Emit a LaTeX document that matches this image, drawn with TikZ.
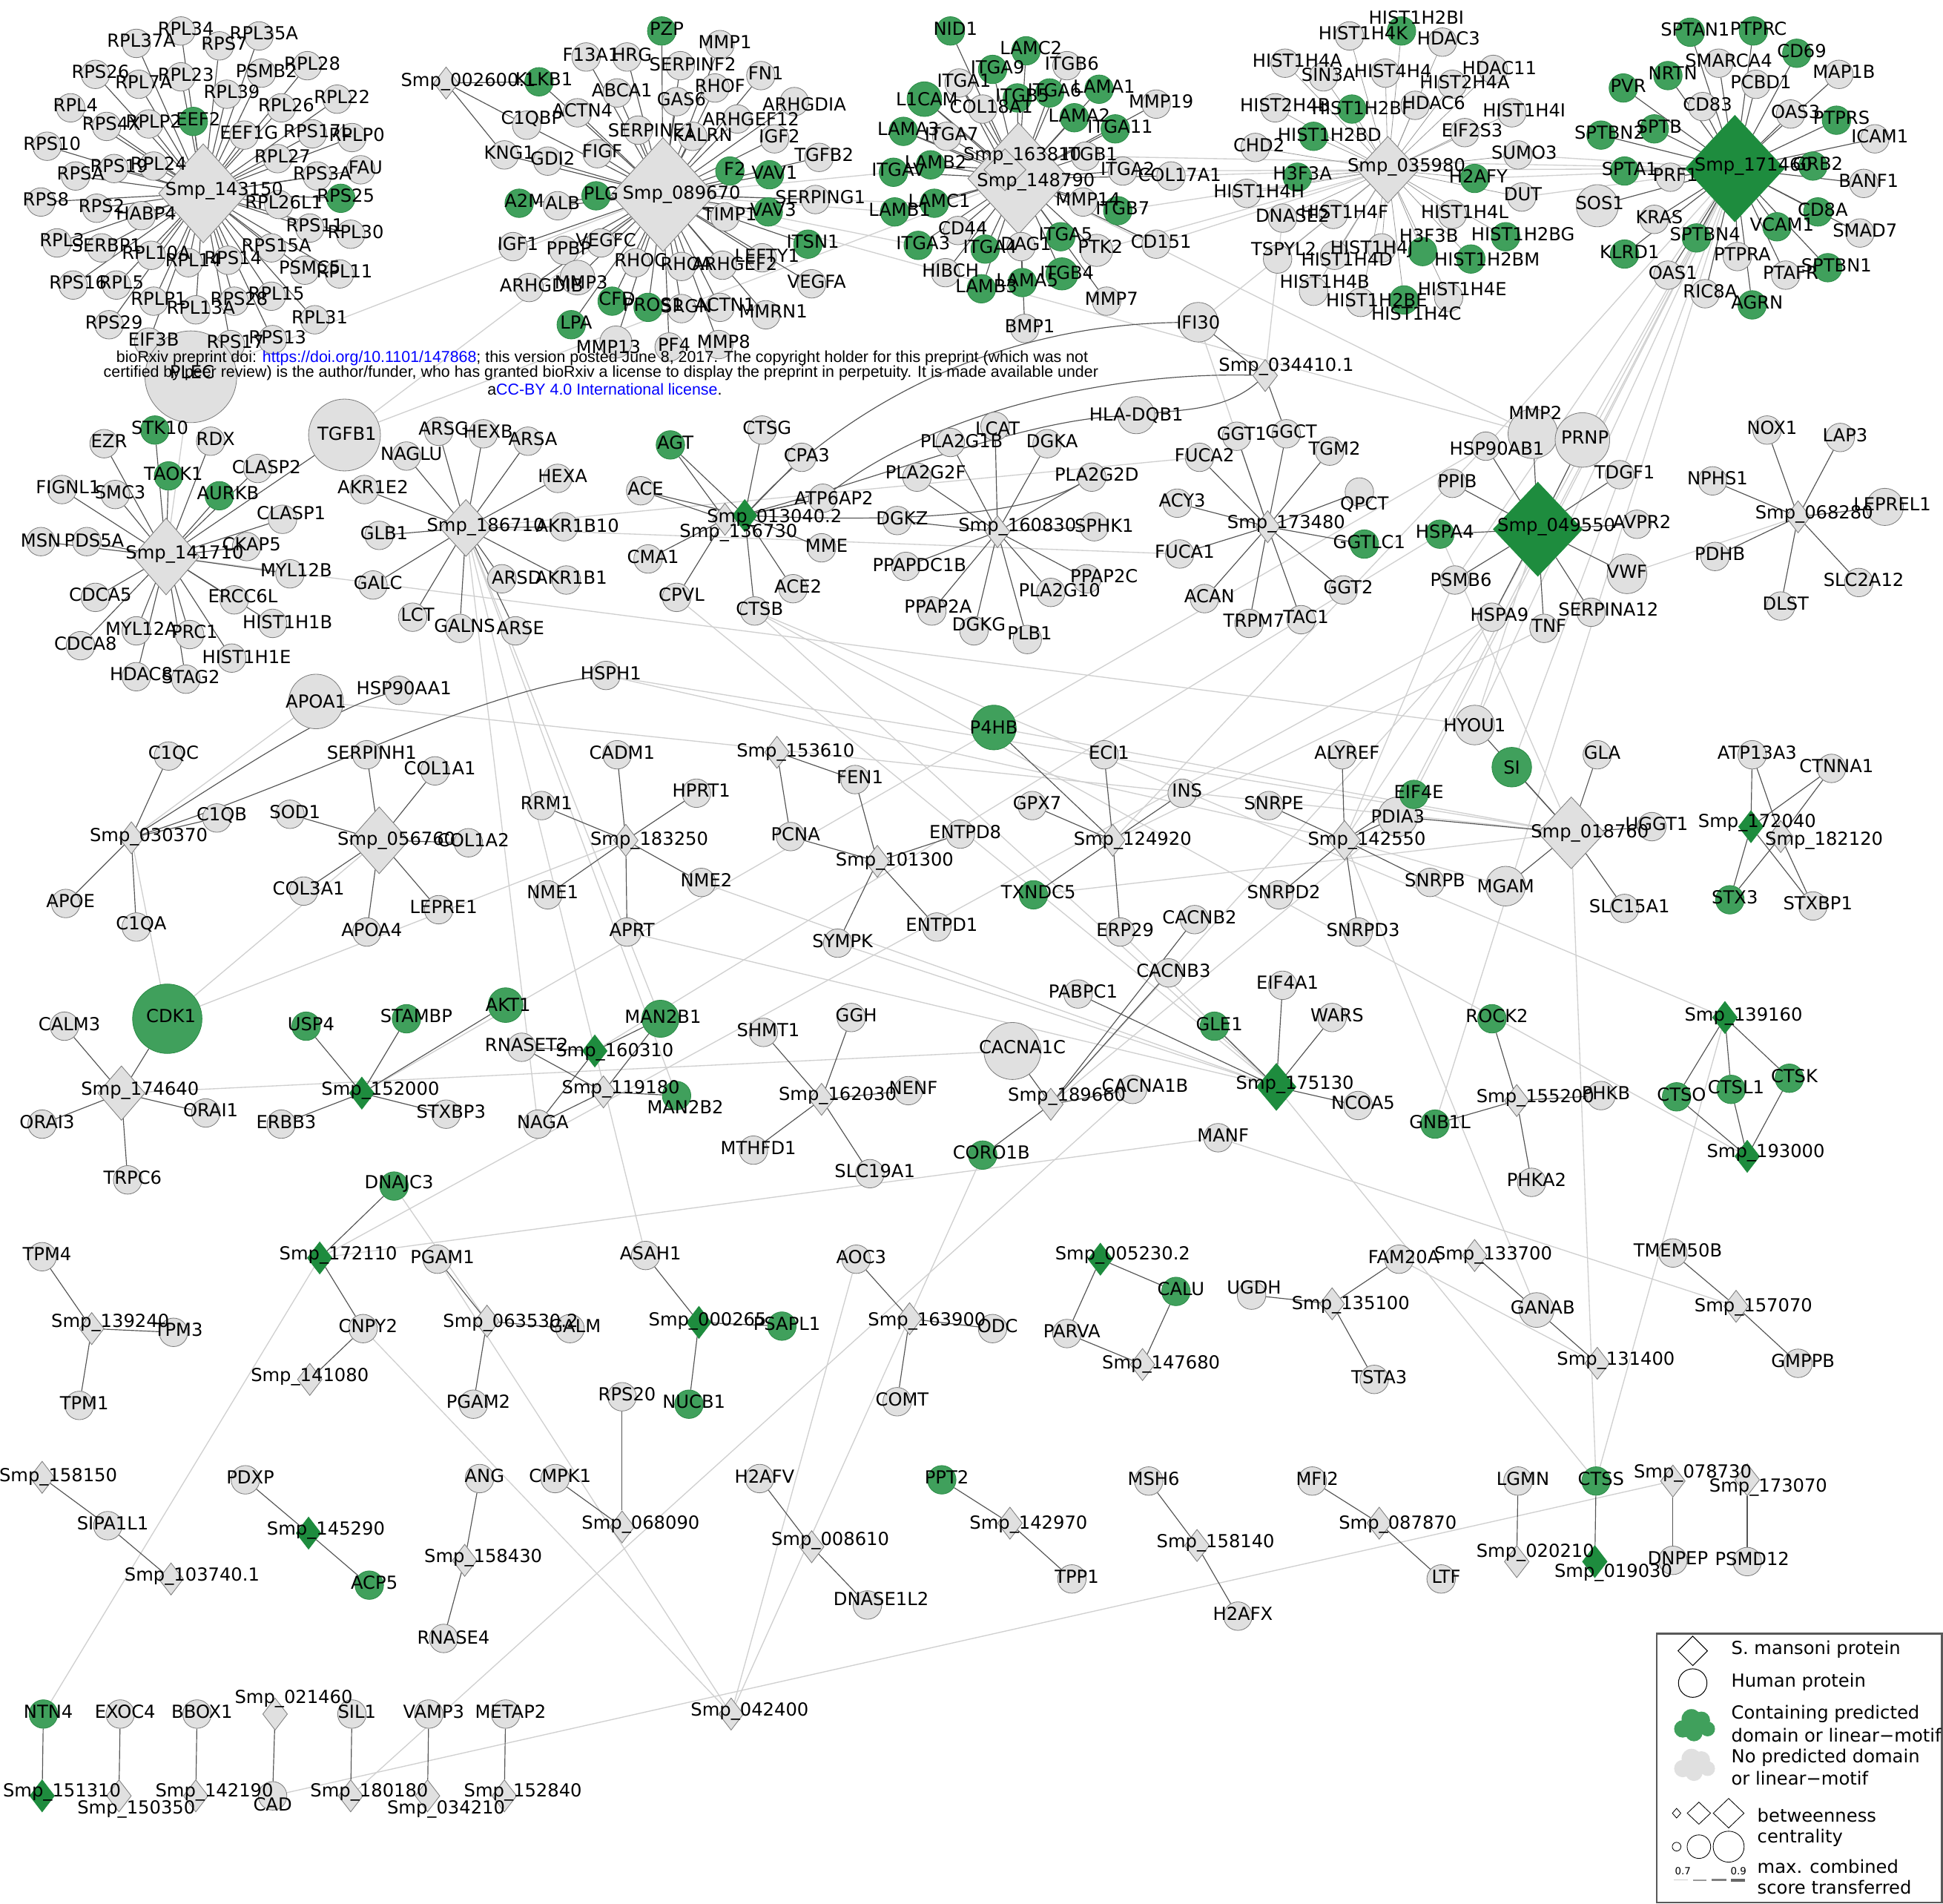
\documentclass[tikz,border=0pt]{standalone}
\usepackage{fontspec}
\setmainfont{DejaVu Sans}
\newfontfamily\wmfont{Liberation Sans}
\usepackage{xcolor}
\usepackage{tikz}
\usetikzlibrary{shapes.geometric}
\definecolor{ngrey}{RGB}{224,224,224}
\definecolor{nline}{RGB}{125,125,125}
\definecolor{cgreen}{RGB}{64,160,92}
\definecolor{gline}{RGB}{42,140,70}
\definecolor{sgreen}{RGB}{30,140,62}
\definecolor{edark}{RGB}{85,85,85}
\definecolor{elight}{RGB}{208,208,208}
\pgfdeclarelayer{edges}
\pgfsetlayers{edges,main}

% danh sách nút
\def\hublist{143150/164/156/72/80/181/154/143150,
  089670/535/157/84/92/550/157/089670, 148790/822/144/82/90/836/147/148790,
  163810/811/137/34/34/825/126/163810, 035980/1120/137/50/54/1135/135/035980,
  141710/134/449/54/62/149/447/141710, 186710/376/426/42/46/392/425/186710,
  056760/306/678/48/54/320/678/056760, 142550/1085/678/26/32/1103/678/142550,
  018760/1268/672/54/58/1283/672/018760, 174640/98/882/38/44/113/880/174640}
\def\hubglist{171460/1400/136/80/86/1415/134/171460,
  049550/1241/427/72/76/1256/425/049550, 175130/1030/877/32/38/1045/875/175130}
\def\smplist{002600a/360/67/18/-1/002600.1, 136730/585/419/11/11/136730,
  160830/805/429/16/-4/160830, 034410a/1021/303/17/-7/034410.1, 173480/1023/425/15/-2/173480,
  068280/1451/417/13/-2/068280, 030370/106/676/14/-1/030370, 183250/505/678/19/0/183250,
  153610/627/607/15/0/153610, 101300/708/695/14/0/101300, 124920/898/678/16/0/124920,
  182120/1437/675/35/3/182120, 119180/487/881/14/-2/119180, 162030/663/887/13/-3/162030,
  189660/848/891/13/-6/189660, 155200/1224/888/15/-2/155200, 133700/1190/1013/15/0/133700,
  139240/74/1072/15/-5/139240, 063530a/393/1066/19/1/063530.2, 163900/734/1064/14/2/163900,
  135100/1075/1052/15/1/135100, 157070/1401/1054/14/1/157070, 141080/250/1113/0/-2/141080,
  147680/922/1101/15/0/147680, 131400/1289/1100/15/-2/131400, 158150/34/1192/13/0/158150,
  103740a/138/1274/17/-2/103740.1, 158430/375/1259/15/-2/158430, 068090/502/1232/15/-2/068090,
  008610/655/1248/15/-5/008610, 142970/815/1229/15/1/142970, 158140/966/1247/15/-2/158140,
  087870/1113/1229/15/1/087870, 078730/1350/1195/16/-6/078730, 173070/1410/1194/17/6/173070,
  020210/1224/1260/15/-7/020210, 021460/222/1383/15/-12/021460, 042400/590/1383/15/-2/042400,
  150350/96/1449/14/11/150350, 142190/158/1449/15/-3/142190, 180180/283/1449/15/-3/180180,
  034210/345/1449/15/11/034210, 152840/407/1449/15/-3/152840}
\def\smpglist{013040a/601/416/24/2/013040.2, 172040/1413/667/5/-3/172040,
  152000/292/882/15/-2/152000, 160310/480/848/16/1/160310, 139160/1392/821/15/-1/139160,
  193000/1410/933/15/-3/193000, 172110/258/1015/15/-2/172110, 005230a/888/1016/18/-3/005230.2,
  000265/564/1067/7/-1/000265, 145290/249/1237/14/-2/145290, 019030/1287/1260/15/9/019030,
  151310/34/1449/16/-3/151310}
\def\humlist{RPL34/146/25, RPL37A/110/35, RPS7/177/37, RPL35A/209/29, RPS26/77/60,
  RPL7A/112/68, RPL23/146/62, PSMB2/211/59, RPL28/248/53, RPL39/183/76, RPL22/272/80, RPL4/57/87,
  RPS4X/86/102, RPLP2/120/100, RPL26/227/87, EEF1G/197/109, RPS17L/252/108, RPLP0/284/111,
  RPL27/224/128, RPS3A/256/142, FAU/291/137, RPS19/92/136, RPL24/124/134, RPSA/61/142,
  RPS10/38/118, RPS8/33/163, RPS2/78/168, HABP4/114/174, RPL26L1/225/165, RPS11/250/184,
  RPL30/283/189, RPL3/46/196, SERBP1/82/200, RPL10A/122/206, RPL14/152/212, RPS14/184/210,
  RPS15A/219/200, PSMC5/246/218, RPL11/274/221, RPS16/59/230, RPL5/94/230, RPLP1/124/243,
  RPL13A/158/250, RPS28/189/243, RPL15/219/239, RPL31/254/258, RPS29/88/262, EIF3B/120/276,
  RPS17/186/278, RPS13/220/274,
  MMP1/581/36, F13A1/473/46, HRG/506/46, FN1/614/61, ABCA1/498/75, RHOF/577/71, GAS6/546/82,
  ACTN4/466/91, IGF2/625/112, KNG1/407/125, GDI2/442/130, FIGF/482/124, TGFB2/661/127,
  ALB/450/166, SERPING1/658/161, TIMP1/585/175, IGF1/414/199, PPBP/455/202, VEGFC/485/196,
  RHOC/513/212, RHOA/550/215, LEFTY1/615/208, VEGFA/655/229, SRGN/550/249, ACTN1/581/248,
  PF4/540/280, MMP8/580/278,
  ITGB6/861/53, ITGA1/774/67, MMP19/933/84, ITGA7/764/110, ITGB1/876/126, ITGA2/906/138,
  MMP14/874/163, CD44/773/186, CD151/933/197, DAG1/824/199, HIBCH/763/220, MMP7/893/243,
  BMP1/827/265,
  PCBD1/1417/68, MAP1B/1484/60, CD83/1374/86, OAS3/1445/92, ICAM1/1513/112, PRF1/1348/143,
  BANF1/1504/148, KRAS/1335/177, SMAD7/1501/188, PTPRA/1402/207, PTAFR/1441/222, OAS1/1346/222,
  RIC8A/1376/237,
  EZR/84/358, RDX/170/356, SMC3/93/399, CKAP5/199/441, CDCA5/77/482, MYL12A/110/509,
  PRC1/153/512, CDCA8/65/521, HDAC8/110/546, STAG2/150/548,
  ARSG/354/348, HEXB/390/350, ARSA/426/356, NAGLU/328/368, HEXA/450/386, GLB1/306/432,
  GALC/301/472, LCT/333/498, GALNS/371/507, ARSE/416/509, AKR1B1/457/468,
  ACE/517/396, CTSG/615/347, CPA3/647/369, MME/663/442, CMA1/523/451, ACE2/640/475,
  CPVL/546/482, CTSB/609/493,
  DGKA/845/358, PLA2G2D/881/385, DGKZ/724/420,
  GGT1/998/352, GGCT/1038/350, TGM2/1073/364, FUCA2/968/369, ACY3/950/406, FUCA1/952/447,
  ACAN/972/483, TRPM7/1008/503, TAC1/1050/500, GGT2/1084/476,
  PPIB/1172/390, TDGF1/1307/383, TNF/1246/507,
  NOX1/1426/347, LAP3/1485/353, NPHS1/1382/388, PDHB/1384/449, SLC2A12/1500/470, DLST/1437/489,
  HSP90AA1/322/557, HSPH1/489/545, C1QC/136/610, C1QB/175/660, SOD1/234/657, SERPINH1/296/609,
  COL1A1/351/622, COL1A2/378/680, COL3A1/245/719, APOE/53/729, C1QA/110/748, APOA4/296/752,
  LEPRE1/354/734, CADM1/498/609, RRM1/437/650, HPRT1/562/640, NME1/442/722, NME2/566/712,
  APRT/506/752, FEN1/690/629, PCNA/638/675, ENTPD8/775/673, ENTPD1/756/748, SYMPK/676/761,
  ECI1/891/609, GPX7/833/650, INS/954/640, ERP29/904/752, GLA/1289/609, ALYREF/1083/609,
  SNRPE/1024/650, SNRPD2/1032/722, SNRPB/1154/712, SNRPD3/1096/752, CACNB2/964/742,
  UGGT1/1333/667, SLC15A1/1311/733, ATP13A3/1414/609, CTNNA1/1478/620, STXBP1/1463/731,
  CALM3/52/828, ORAI3/34/907, ORAI1/166/898, TRPC6/103/952, ERBB3/227/907, STXBP3/360/899,
  RNASET2/421/845, NAGA/434/907, SHMT1/616/833, GGH/687/821, NENF/733/880, MTHFD1/608/928,
  SLC19A1/702/947, PABPC1/870/802, CACNB3/943/785, EIF4A1/1035/795, WARS/1075/821,
  NCOA5/1096/892, MANF/983/918, PHKB/1292/884, PHKA2/1236/954,
  TPM4/34/1014, PGAM1/353/1016, ASAH1/521/1013, AOC3/691/1016, FAM20A/1129/1016,
  TMEM50B/1350/1011, TPM3/140/1075, CNPY2/293/1072, GALM/460/1072, ODC/801/1072,
  PARVA/861/1076, TPM1/64/1134, PGAM2/382/1133, RPS20/502/1127, COMT/724/1131,
  TSTA3/1109/1113, GMPPB/1451/1100,
  SIPA1L1/87/1231, PDXP/198/1194, ANG/387/1193, CMPK1/448/1193, H2AFV/613/1193,
  TPP1/865/1274, MSH6/927/1195, H2AFX/999/1304, MFI2/1059/1195, LTF/1163/1274,
  LGMN/1225/1195, DNPEP/1350/1259, PSMD12/1410/1260,
  EXOC4/97/1383, BBOX1/159/1383, SIL1/284/1383, VAMP3/346/1383, METAP2/408/1383}
\def\humsplist{SERPINF2/549/53/559/52, ARHGDIA/641/82/649/84, C1QBP/425/101/429/96,
  ARHGEF12/595/96/606/96, SERPINE1/515/105/526/105, KALRN/559/110/567/109,
  ARHGEF2/583/214/593/213, MMRN1/618/254/624/251, ARHGDIB/427/232/437/230,
  COL18A1/793/88/800/86, COL17A1/945/142/952/141,
  HIST1H4K/1089/29/1100/27, HDAC3/1164/34/1169/31, HIST1H4A/1037/51/1047/49,
  SIN3A/1068/62/1072/60, HIST4H4/1118/59/1124/57, HDAC11/1205/56/1210/55,
  HIST2H4A/1172/68/1182/66, HIST2H4B/1029/87/1037/85, HDAC6/1142/85/1157/83,
  HIST1H4I/1220/91/1230/89, EIF2S3/1182/107/1188/105, CHD2/1013/119/1016/117,
  SUMO3/1225/125/1230/123, HIST1H4H/1006/156/1016/154, DUT/1228/159/1229/157,
  DNASE2/1035/176/1043/174, HIST1H4F/1076/173/1085/171, HIST1H4L/1172/173/1182/171,
  HIST1H4J/1115/200/1107/201, TSPYL2/1031/209/1036/201, HIST1H4D/1077/206/1087/209,
  HIST1H4B/1060/235/1069/227, HIST1H2BE/1098/244/1111/242, HIST1H4E/1169/240/1180/233,
  SMARCA4/1387/51/1395/49,
  CLASP2/208/378/215/377, FIGNL1/50/395/55/393, CLASP1/228/419/235/414, MSN/33/437/33/436,
  PDS5A/70/437/76/436, MYL12B/234/463/239/460, ERCC6L/189/484/196/481,
  HIST1H1B/220/503/232/502, HIST1H1E/187/531/199/530,
  AKR1E2/294/395/301/393, AKR1B10/455/425/466/424, ARSD/405/467/417/466,
  ATP6AP2/664/402/673/402,
  LCAT/803/344/805/346, PLA2G1B/767/357/776/356, PLA2G2F/740/385/747/381,
  SPHK1/883/425/891/424, PPAPDC1B/731/457/742/456, PPAP2C/877/467/891/465,
  PLA2G10/848/478/855/476, PPAP2A/752/493/757/489, DGKG/786/509/790/504, PLB1/829/516/831/511,
  QPCT/1097/397/1101/407,
  HSP90AB1/1199/360/1208/362, AVPR2/1321/423/1325/421, PSMB6/1174/468/1179/468,
  HSPA9/1204/498/1210/496, SERPINA12/1284/494/1298/492,
  CACNA1B/914/879/924/876, UGDH/1010/1045/1012/1039, RNASE4/358/1322/366/1321,
  DNASE1L2/700/1295/711/1290, CAD/220/1449/220/1456}
\def\humbig{PLEC/154/304/74/155/300, TGFB1/278/351/58/280/350,
  MMP3/466/224/28/469/228, MMP13/497/276/26/491/280, PTK2/885/202/26/888/199,
  IFI30/967/260/32/967/260, HLA-DQB1/917/335/30/917/335, SOS1/1289/166/34/1291/164,
  MMP2/1237/350/40/1239/333, PRNP/1277/355/44/1279/353, VWF/1313/463/32/1313/461,
  LEPREL1/1521/409/30/1527/407, APOA1/255/566/44/255/566, HYOU1/1190/585/32/1190/585,
  PDIA3/1128/659/32/1128/659, MGAM/1215/715/32/1215/715, CACNA1C/817/848/46/825/845,
  GANAB/1240/1057/28/1245/1055}
\def\humglist{EEF2/156/98, RPS25/275/160,
  PZP/534/25, KLKB1/435/66, F2/589/138, VAV1/621/141, A2M/419/164, PLG/481/158, VAV3/620/171,
  ITSN1/652/197, CFD/494/243, PROS1/523/248, LPA/461/262,
  NID1/767/25, LAMC2/828/41, ITGA9/801/56, ITGB5/821/79, ITGA6/847/75, LAMA1/887/72,
  LAMA2/867/95, ITGA11/900/104, LAMA3/729/106, LAMB2/751/133, ITGAV/721/139, LAMC1/754/164,
  LAMB1/722/171, ITGB7/902/170, ITGA3/741/198, ITGA4/795/201, ITGA5/856/191, LAMB3/792/233,
  LAMA5/825/228,
  SPTAN1/1364/26, PTPRC/1415/25, CD69/1450/43, NRTN/1346/61, PVR/1310/71, PTPRS/1482/97,
  SPTB/1335/104, SPTA1/1311/138, GRB2/1463/134, CD8A/1467/171, VCAM1/1434/183, KLRD1/1311/205,
  AGRN/1414/246,
  STK10/125/347, TAOK1/136/384, AGT/541/359, GGTLC1/1101/439, HSPA4/1162/431,
  TXNDC5/834/722, EIF4E/1141/641, STX3/1396/726,
  USP4/247/828, GLE1/980/828, ROCK2/1204/822, GNB1L/1158/907, CTSO/1353/885, CTSL1/1397/879,
  CTSK/1444/870, DNAJC3/318/957, CALU/949/1042, PSAPL1/631/1070, NUCB1/556/1133,
  ACP5/298/1279, PPT2/760/1194, CTSS/1288/1195, NTN4/35/1383}
\def\humgsplist{HIST1H2BI/1131/25/1143/14, HIST1H2BF/1091/88/1099/87,
  HIST1H2BD/1060/110/1073/109, H3F3A/1047/143/1051/140, H2AFY/1190/144/1193/142,
  HIST1H2BG/1215/191/1229/189, H3F3B/1148/203/1153/190, HIST1H2BM/1187/209/1200/209,
  HIST1H4C/1133/242/1143/253, SPTBN2/1292/109/1299/107, SPTBN4/1369/192/1376/189,
  SPTBN1/1475/216/1482/214, AURKB/177/400/184/398, STAMBP/328/822/336/820,
  CORO1B/793/932/800/930, MAN2B2/546/884/553/893}
\def\humgbig{L1CAM/746/80/28/748/80, ITGB4/857/221/26/861/220,
  P4HB/802/587/36/802/587, SI/1220/619/32/1220/619, CDK1/135/822/56/138/820,
  AKT1/408/811/28/410/811, MAN2B1/533/822/30/535/820}

\begin{document}
\begin{tikzpicture}[x=1pt,y=-1pt,
  hum/.style={circle,draw=nline,fill=ngrey,line width=0.5pt,inner sep=0pt,minimum size=23pt},
  humg/.style={hum,draw=gline,fill=cgreen},
  smp/.style={diamond,draw=nline,fill=ngrey,line width=0.5pt,inner sep=0pt,minimum width=20pt,minimum height=26pt},
  smpg/.style={smp,draw=sgreen,fill=sgreen},
  lab/.style={inner sep=0pt,font=\fontsize{14.5}{15}\selectfont},
  spoke/.style={draw=edark,line width=0.7pt},
  spokelt/.style={draw=black!38,line width=0.5pt},
  faint/.style={draw=elight,line width=0.8pt}]
\useasboundingbox (0,0) rectangle (1568,1536);

% Vẽ hình các nút
\foreach \n/\x/\y/\w/\h/\lx/\ly/\txt in \hublist
  \node[smp,minimum width=\w pt,minimum height=\h pt] (s\n) at (\x,\y) {};
\foreach \n/\x/\y/\w/\h/\lx/\ly/\txt in \hubglist
  \node[smpg,minimum width=\w pt,minimum height=\h pt] (s\n) at (\x,\y) {};
\foreach \n/\x/\y/\dx/\dy/\txt in \smplist
  \node[smp] (s\n) at (\x,\y) {};
\foreach \n/\x/\y/\dx/\dy/\txt in \smpglist
  \node[smpg] (s\n) at (\x,\y) {};
\foreach \n/\x/\y in \humlist
  \node[hum] (\n) at (\x,\y) {};
\foreach \n/\x/\y/\lx/\ly in \humsplist
  \node[hum] (\n) at (\x,\y) {};
\foreach \n/\x/\y/\d/\lx/\ly in \humbig
  \node[hum,minimum size=\d pt] (\n) at (\x,\y) {};
\foreach \n/\x/\y in \humglist
  \node[humg] (\n) at (\x,\y) {};
\foreach \n/\x/\y/\lx/\ly in \humgsplist
  \node[humg] (\n) at (\x,\y) {};
\foreach \n/\x/\y/\d/\lx/\ly in \humgbig
  \node[humg,minimum size=\d pt] (\n) at (\x,\y) {};

% Vẽ các cạnh
\begin{pgfonlayer}{edges}
\fill[white] (0,0) rectangle (1568,1536);
\foreach \a/\b in {PLEC/s089670, PLEC/s141710, TGFB1/s089670, TGFB1/s148790, LAMB1/s089670,
  LAMC1/s089670, ITGAV/s089670, ITGA3/s089670, CD151/s035980, ITGB7/s035980, COL17A1/s035980,
  ITGB1/s171460, ITGA2/s171460, SUMO3/s171460, H2AFY/s171460, DUT/s171460, HSP90AB1/s171460,
  PSMB6/s171460, HSPA9/s171460, GNB1L/s171460, PDIA3/s171460, HSP90AB1/s124920,
  HSPA9/s142550, HSPA4/s018760, PSMB6/s142550, MMP2/s089670, MMP2/s148790, PRNP/s171460,
  HYOU1/s049550, P4HB/s018760, TXNDC5/s018760, CTSB/s193000, CTSB/s139160, APOA1/s030370,
  CDK1/s030370, CDK1/s056760, CDK1/s183250, NAGA/s186710, MAN2B1/s186710, MAN2B2/s186710,
  ASAH1/s186710, CNPY2/s042400, PGAM1/s042400, AOC3/s042400, CORO1B/s042400, NTN4/s172110,
  CACNA1B/s180180, CAD/s078730, CACNA1C/s174640, MANF/s172110, MANF/s157070, GANAB/s142550,
  CTSS/s018760, CTSS/s175130, NME2/s175130, APRT/s175130, SYMPK/s175130, DNAJC3/s063530a,
  FAM20A/s131400, DNASE2/s034410a, FUCA1/s186710, FUCA2/s186710, HSPH1/s018760,
  HSPH1/s142550, IFI30/s173480, TNF/s124920, VWF/s068280, CTSS/s139160, MGAM/s142550,
  HYOU1/s141710, APOA1/s018760, CTSB/s175130, CPVL/s175130, PDIA3/s189660, ERP29/s175130,
  HSPA9/s189660, HSPA9/s172110, HSP90AB1/s152000, HSPA4/s160310, HYOU1/s171460, SI/s171460,
  EIF4E/s171460, IFI30/s035980, PTK2/s035980}
  \draw[faint] (\a) -- (\b);
\foreach \m in {RPL34, RPL37A, RPS7, RPL35A, RPS26, RPL7A, RPL23, PSMB2, RPL28, RPL39, RPL22,
  RPL4, RPS4X, RPLP2, EEF2, RPL26, EEF1G, RPS17L, RPLP0, RPL27, RPS3A, FAU, RPS19, RPL24, RPSA,
  RPS10, RPS8, RPS2, HABP4, RPL26L1, RPS25, RPS11, RPL30, RPL3, SERBP1, RPL10A, RPL14, RPS14,
  RPS15A, PSMC5, RPL11, RPS16, RPL5, RPLP1, RPL13A, RPS28, RPL15, RPL31, RPS29, EIF3B, RPS17,
  RPS13}
  \draw[spoke] (s143150) -- (\m);
\foreach \m in {PZP, MMP1, F13A1, HRG, SERPINF2, FN1, KLKB1, ABCA1, RHOF, GAS6, ARHGDIA, ACTN4,
  C1QBP, ARHGEF12, SERPINE1, KALRN, IGF2, KNG1, GDI2, FIGF, TGFB2, F2, VAV1, A2M, ALB, PLG,
  SERPING1, VAV3, TIMP1, IGF1, PPBP, VEGFC, ITSN1, RHOC, RHOA, ARHGEF2, LEFTY1, VEGFA, ARHGDIB,
  MMP3, CFD, PROS1, SRGN, ACTN1, MMRN1, LPA, MMP13, PF4, MMP8}
  \draw[spoke] (s089670) -- (\m);
\foreach \m in {KLKB1, KNG1, C1QBP}
  \draw[spoke] (s002600a) -- (\m);
\foreach \m in {NID1, LAMC2, ITGA9, ITGB6, ITGA1, L1CAM, COL18A1, ITGB5, ITGA6, LAMA1, MMP19,
  LAMA2, ITGA11, LAMA3, ITGA7, ITGB1, LAMB2, ITGAV, ITGA2, COL17A1, LAMC1, LAMB1, MMP14, ITGB7,
  CD44, CD151, ITGA3, ITGA4, DAG1, ITGA5, PTK2, HIBCH, LAMB3, LAMA5, ITGB4, MMP7, BMP1}
  \draw[spoke] (s148790) -- (\m);
\foreach \m in {ITGA1, L1CAM, LAMA3, LAMB2}
  \draw[spoke] (s163810) -- (\m);
\foreach \m in {HIST1H2BI, HIST1H4K, HDAC3, HIST1H4A, SIN3A, HIST4H4, HDAC11, HIST2H4A, HIST2H4B,
  HIST1H2BF, HDAC6, HIST1H4I, HIST1H2BD, EIF2S3, CHD2, SUMO3, H3F3A, H2AFY, HIST1H4H, DUT, DNASE2,
  HIST1H4F, HIST1H4L, HIST1H2BG, H3F3B, HIST1H4J, HIST1H2BM, TSPYL2, HIST1H4D, HIST1H4B,
  HIST1H2BE, HIST1H4E, HIST1H4C}
  \draw[spokelt] (s035980) -- (\m);
\foreach \m in {SPTAN1, PTPRC, CD69, SMARCA4, NRTN, PCBD1, MAP1B, PVR, CD83, OAS3, PTPRS, SPTBN2,
  SPTB, ICAM1, SPTA1, PRF1, GRB2, BANF1, SOS1, KRAS, CD8A, VCAM1, SMAD7, SPTBN4, KLRD1, PTPRA,
  SPTBN1, PTAFR, OAS1, RIC8A, AGRN}
  \draw[spoke] (s171460) -- (\m);
\foreach \m in {STK10, EZR, RDX, TAOK1, CLASP2, FIGNL1, SMC3, AURKB, CLASP1, MSN, PDS5A, CKAP5,
  MYL12B, CDCA5, ERCC6L, HIST1H1B, MYL12A, PRC1, CDCA8, HIST1H1E, HDAC8, STAG2, TGFB1}
  \draw[spoke] (s141710) -- (\m);
\foreach \m in {ARSG, HEXB, ARSA, NAGLU, HEXA, AKR1E2, AKR1B10, GLB1, GALC, ARSD, AKR1B1, LCT,
  GALNS, ARSE}
  \draw[spoke] (s186710) -- (\m);
\foreach \m in {AGT, ACE, CTSG, CPA3, ATP6AP2, MME, ACE2, CTSB}
  \draw[spoke] (s013040a) -- (\m);
\foreach \m in {AGT, ACE, CMA1, CPVL, ATP6AP2}
  \draw[spoke] (s136730) -- (\m);
\foreach \m in {LCAT, PLA2G1B, DGKA, PLA2G2F, PLA2G2D, DGKZ, SPHK1, PPAPDC1B, PPAP2C, PLA2G10,
  PPAP2A, DGKG, PLB1}
  \draw[spoke] (s160830) -- (\m);
\foreach \m in {GGT1, GGCT, TGM2, FUCA2, QPCT, ACY3, GGTLC1, FUCA1, ACAN, TRPM7, TAC1, GGT2}
  \draw[spoke] (s173480) -- (\m);
\foreach \m in {MMP2, PRNP, HSP90AB1, PPIB, TDGF1, AVPR2, VWF, PSMB6, HSPA9, TNF, SERPINA12, HSPA4}
  \draw[spoke] (s049550) -- (\m);
\foreach \m in {NOX1, LAP3, NPHS1, LEPREL1, PDHB, SLC2A12, DLST}
  \draw[spoke] (s068280) -- (\m);
\foreach \s/\m in {030370/C1QC, 030370/C1QB, 030370/APOE, 030370/C1QA,
  056760/SERPINH1, 056760/COL1A1, 056760/COL1A2, 056760/COL3A1, 056760/APOA4, 056760/LEPRE1,
  056760/SOD1, 183250/CADM1, 183250/RRM1, 183250/HPRT1, 183250/NME1, 183250/NME2, 183250/APRT,
  153610/FEN1, 153610/PCNA, 101300/FEN1, 101300/PCNA, 101300/ENTPD8, 101300/ENTPD1, 101300/SYMPK,
  124920/P4HB, 124920/ECI1, 124920/GPX7, 124920/INS, 124920/TXNDC5, 124920/ERP29,
  142550/ALYREF, 142550/SNRPE, 142550/EIF4E, 142550/PDIA3, 142550/SNRPD2, 142550/SNRPB,
  142550/SNRPD3, 018760/HYOU1, 018760/SI, 018760/GLA, 018760/UGGT1, 018760/MGAM,
  018760/SLC15A1, 018760/PDIA3, 172040/ATP13A3, 172040/CTNNA1, 172040/STX3, 172040/STXBP1,
  182120/ATP13A3, 182120/CTNNA1, 182120/STX3, 182120/STXBP1,
  174640/CALM3, 174640/CDK1, 174640/ORAI3, 174640/ORAI1, 174640/TRPC6,
  152000/USP4, 152000/STAMBP, 152000/AKT1, 152000/ERBB3, 152000/STXBP3,
  160310/RNASET2, 160310/MAN2B1, 160310/NAGA, 119180/RNASET2, 119180/MAN2B1, 119180/MAN2B2,
  119180/NAGA, 162030/SHMT1, 162030/GGH, 162030/MTHFD1, 162030/SLC19A1, 162030/NENF,
  189660/CACNA1C, 189660/CACNB3, 189660/CACNA1B, 189660/CORO1B, 189660/CACNB2,
  175130/GLE1, 175130/EIF4A1, 175130/WARS, 175130/NCOA5, 175130/PABPC1,
  155200/ROCK2, 155200/GNB1L, 155200/PHKB, 155200/PHKA2,
  139160/CTSO, 139160/CTSL1, 139160/CTSK, 193000/CTSO, 193000/CTSL1, 193000/CTSK,
  172110/DNAJC3, 172110/CNPY2, 141080/CNPY2, 139240/TPM4, 139240/TPM3, 139240/TPM1,
  063530a/PGAM1, 063530a/GALM, 063530a/PGAM2, 000265/ASAH1, 000265/PSAPL1, 000265/NUCB1,
  163900/AOC3, 163900/ODC, 163900/COMT, 005230a/CALU, 005230a/PARVA, 147680/CALU,
  147680/PARVA, 135100/UGDH, 135100/FAM20A, 135100/TSTA3, 133700/GANAB, 157070/TMEM50B,
  157070/GMPPB, 131400/GANAB, 158150/SIPA1L1, 103740a/SIPA1L1, 145290/PDXP, 145290/ACP5,
  158430/ANG, 158430/RNASE4, 068090/CMPK1, 068090/RPS20, 008610/H2AFV, 008610/DNASE1L2,
  142970/PPT2, 142970/TPP1, 158140/MSH6, 158140/H2AFX, 087870/MFI2, 087870/LTF,
  020210/LGMN, 019030/CTSS, 078730/DNPEP, 173070/PSMD12, 151310/NTN4, 150350/EXOC4,
  142190/BBOX1, 021460/CAD, 180180/SIL1, 034210/VAMP3, 152840/METAP2}
  \draw[spoke] (s\s) -- (\m);
% các cạnh cong
\draw[spoke] (s013040a) .. controls (680,330) and (800,262) .. (IFI30);
\draw[spoke] (s136730) .. controls (700,390) and (820,340) .. (HLA-DQB1);
\draw[spoke] (s013040a) .. controls (700,420) and (820,420) .. (PLA2G2D);
\draw[spoke] (ATP6AP2) .. controls (760,330) and (900,300) .. (s034410a);
\draw[spoke] (s034410a) .. controls (990,330) and (960,330) .. (HLA-DQB1);
\draw[spoke] (s034410a) -- (IFI30);
\draw[spoke] (s034410a) -- (GGCT);
\draw[spoke] (s030370) .. controls (250,630) and (380,560) .. (HSPH1);
\draw[spoke] (s030370) .. controls (180,630) and (260,575) .. (HSP90AA1);
\end{pgfonlayer}

% Vẽ nhãn
\foreach \n/\x/\y/\w/\h/\lx/\ly/\txt in \hublist
  \node[lab] (ts\n) at (\lx,\ly) {Smp\_\txt};
\foreach \n/\x/\y/\w/\h/\lx/\ly/\txt in \hubglist
  \node[lab] (ts\n) at (\lx,\ly) {Smp\_\txt};
\foreach \n/\x/\y/\dx/\dy/\txt in \smplist
  \node[lab] (ts\n) at (\x+\dx,\y+\dy) {Smp\_\txt};
\foreach \n/\x/\y/\dx/\dy/\txt in \smpglist
  \node[lab] (ts\n) at (\x+\dx,\y+\dy) {Smp\_\txt};
\foreach \n/\x/\y in \humlist
  \node[lab] (t\n) at (\x+4,\y-2) {\n};
\foreach \n/\x/\y in \humglist
  \node[lab] (t\n) at (\x+4,\y-2) {\n};
\foreach \n/\x/\y/\lx/\ly in \humsplist
  \node[lab] (t\n) at (\lx,\ly) {\n};
\foreach \n/\x/\y/\lx/\ly in \humgsplist
  \node[lab] (t\n) at (\lx,\ly) {\n};
\foreach \n/\x/\y/\d/\lx/\ly in \humbig
  \node[lab] (t\n) at (\lx,\ly) {\n};
\foreach \n/\x/\y/\d/\lx/\ly in \humgbig
  \node[lab] (t\n) at (\lx,\ly) {\n};

% Dòng chữ bioRxiv
\node[font=\wmfont\fontsize{12.8}{13}\selectfont,inner sep=0pt] (wm1) at (486,289)
  {bioRxiv preprint doi: \textcolor{blue}{https://doi.org/10.1101/147868}; this version posted June 8, 2017. The copyright holder for this preprint (which was not};
\node[font=\wmfont\fontsize{12.8}{13}\selectfont,inner sep=0pt] (wm2) at (485,301)
  {certified by peer review) is the author/funder, who has granted bioRxiv a license to display the preprint in perpetuity. It is made available under};
\node[font=\wmfont\fontsize{12.8}{13}\selectfont,inner sep=0pt] (wm3) at (488,314)
  {a\textcolor{blue}{CC-BY 4.0 International license}.};

% Chú thích
\draw[draw=black!65,line width=1.6pt,fill=white] (1337,1318) rectangle (1567,1535);
\node[diamond,draw=black,line width=0.6pt,inner sep=0pt,minimum width=24pt,minimum height=24pt] (lgS) at (1366,1332) {};
\node[circle,draw=black,line width=0.6pt,inner sep=0pt,minimum size=23pt] (lgH) at (1366,1358) {};
\fill[cgreen] (1358,1395) circle (7pt) (1365,1387) circle (8pt) (1373,1388) circle (7pt) (1378,1395) circle (6pt) (1367,1398) circle (7pt);
\fill[ngrey] (1358,1427) circle (7pt) (1365,1419) circle (8pt) (1373,1420) circle (7pt) (1378,1427) circle (6pt) (1367,1430) circle (7pt);
\node[diamond,draw=black,line width=0.5pt,inner sep=0pt,minimum width=7pt,minimum height=8pt] (lgS1) at (1353,1463) {};
\node[diamond,draw=black,line width=0.5pt,inner sep=0pt,minimum width=19pt,minimum height=18pt] (lgS2) at (1371,1463) {};
\node[diamond,draw=black,line width=0.5pt,inner sep=0pt,minimum width=25pt,minimum height=24pt] (lgS3) at (1395,1463) {};
\node[circle,draw=black,line width=0.5pt,inner sep=0pt,minimum size=7pt] (lgH1) at (1353,1490) {};
\node[circle,draw=black,line width=0.5pt,inner sep=0pt,minimum size=19pt] (lgH2) at (1371,1490) {};
\node[circle,draw=black,line width=0.5pt,inner sep=0pt,minimum size=25pt] (lgH3) at (1395,1490) {};
\node[font=\fontsize{8}{8}\selectfont,inner sep=0pt] (lg7) at (1358,1510) {0.7};
\node[font=\fontsize{8}{8}\selectfont,inner sep=0pt] (lg9) at (1403,1510) {0.9};
\draw[black!20,line width=0.8pt] (1351,1517) -- (1362,1517);
\draw[black!40,line width=1.2pt] (1366,1517) -- (1377,1517);
\draw[black!50,line width=1.6pt] (1381,1517) -- (1393,1517);
\draw[black!60,line width=2.4pt] (1397,1517) -- (1408,1517);
\foreach \n/\x/\y/\txt in {1/1397/1331/S. mansoni protein, 2/1397/1357/Human protein,
  3/1397/1383/Containing predicted, 4/1397/1400/domain or linear−motif,
  5/1397/1418/No predicted domain, 6/1397/1435/or linear−motif, 7/1418/1465/betweenness,
  8/1418/1483/centrality, 9/1418/1506/max. combined, 10/1418/1523/score transferred}
  \node[lab,anchor=west] (lgt\n) at (\x,\y) {\txt};
\end{tikzpicture}
\end{document}
